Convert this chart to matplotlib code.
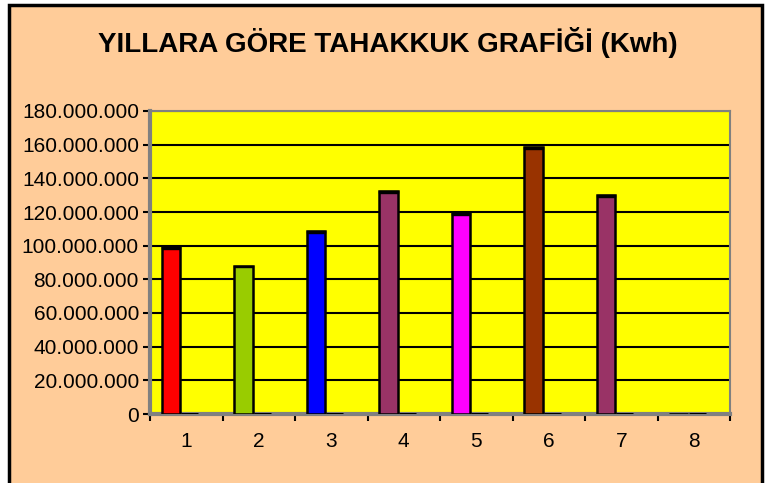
import numpy as np
import matplotlib.pyplot as plt
from matplotlib.patches import Rectangle
from matplotlib.ticker import FuncFormatter

plt.rcParams['font.family'] = ['Liberation Sans', 'DejaVu Sans']

# veriler
yillar = [1, 2, 3, 4, 5, 6, 7, 8]
tahakkuk = [99.0e6, 88.1e6, 108.6e6, 132.2e6, 119.2e6, 158.5e6, 130.0e6, 0]
ikinci_seri = [0, 0, 0, 0, 0, 0, 0, 0]
renkler = ["#FF0000", "#99CC00", "#0000FF", "#993366", "#FF00FF", "#993300", "#993366", "#993366"]
y_ticks = np.arange(0, 180e6 + 1, 20e6)

fig = plt.figure(figsize=(7.67, 4.83), dpi=100)
fig.patch.set_facecolor("white")

# dis cerceve
fig.patches.append(Rectangle((9 / 767, -0.05), 753 / 767, 1.05 - 5 / 483,
                             transform=fig.transFigure, facecolor="#FFCC99",
                             edgecolor="black", linewidth=2.5, zorder=-5))

ax = fig.add_axes([150 / 767, 69 / 483, 580 / 767, 303 / 483])
ax.set_zorder(2)
ax.set_facecolor("#FFFF00")

x = np.array(yillar)
w = 0.26
x1 = x - 0.21
x2 = x1 + w

ax.bar(x1, tahakkuk, width=w, color=renkler, edgecolor="black", linewidth=1.8, zorder=3)
# ust kapak (3B gorunum)
kapak = 1.0e6
ax.bar(x1, [kapak if v > 0 else 0 for v in tahakkuk],
       bottom=[v - kapak if v > 0 else 0 for v in tahakkuk],
       width=w, color="black", edgecolor="black", linewidth=1.0, zorder=4)
ax.bar(x2, ikinci_seri, width=w * 0.9, color="black", edgecolor="black", linewidth=2.2, zorder=3)

ax.set_ylim(0, 180e6)
ax.set_xlim(0.5, 8.5)
ax.set_yticks(y_ticks)
ax.yaxis.set_major_formatter(FuncFormatter(lambda v, p: f"{int(v):,}".replace(",", ".")))
ax.grid(axis="y", color="black", linewidth=1.5, zorder=1)

ax.set_xticks(x)
ax.set_xticklabels([str(i) for i in yillar])
ax.set_xticks(np.arange(0.5, 9, 1), minor=True)
ax.tick_params(axis="x", which="major", length=0, pad=13, labelsize=15)
ax.tick_params(axis="x", which="minor", length=5, width=1.5, color="black", direction="out")
ax.tick_params(axis="y", length=5, width=1.5, color="black", direction="out", labelsize=15, pad=3)

for s in ["top", "right"]:
    ax.spines[s].set_color("#808080")
    ax.spines[s].set_linewidth(1.5)
for s in ["left", "bottom"]:
    ax.spines[s].set_color("#808080")
    ax.spines[s].set_linewidth(3)

fig.text(388 / 767, 1 - 42 / 483, "YILLARA GÖRE TAHAKKUK GRAFİĞİ (Kwh)",
         ha="center", va="center", fontsize=20, fontweight="bold")

fig.savefig("out.png", dpi=100, facecolor=fig.get_facecolor())
